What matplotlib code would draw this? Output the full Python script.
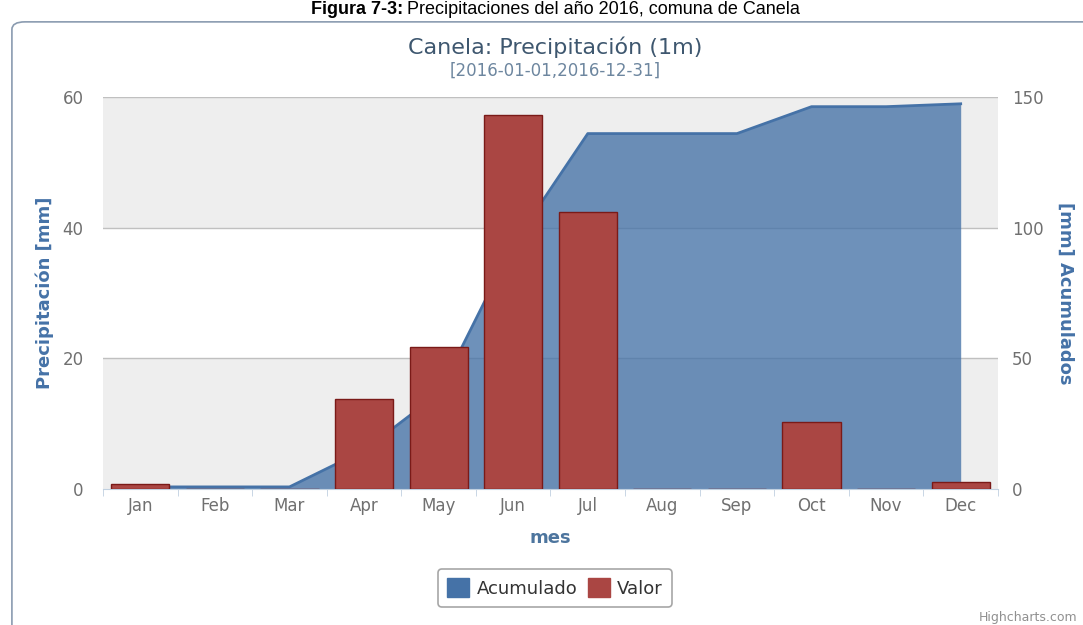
import matplotlib.pyplot as plt
from matplotlib.patches import FancyBboxPatch, Patch

meses = ["Jan", "Feb", "Mar", "Apr", "May", "Jun", "Jul", "Aug", "Sep", "Oct", "Nov", "Dec"]
valor = [0.8, 0, 0, 13.8, 21.7, 57.3, 42.4, 0, 0, 10.3, 0, 1.1]
acumulado = [0.8, 0.8, 0.8, 14.8, 36.5, 93.6, 136.0, 136.0, 136.0, 146.3, 146.3, 147.4]

azul = "#4572A7"
rojo = "#AA4643"

fig = plt.figure(figsize=(10.83, 6.25), dpi=100)

# caption above the chart box
fig.text(0.372, 0.999, "Figura 7-3:", ha="right", va="top", fontsize=13,
         fontweight="bold", family="Liberation Sans")
fig.text(0.376, 0.999, "Precipitaciones del año 2016, comuna de Canela", ha="left", va="top",
         fontsize=13, family="Liberation Sans")

# chart frame
frame = FancyBboxPatch((0.011, -0.05), 1.02, 1.015, transform=fig.transFigure,
                       boxstyle="round,pad=0,rounding_size=0.012",
                       fc="white", ec="#8a9bb0", lw=1.2, zorder=-5)
fig.patches.append(frame)

ax2 = fig.add_axes([0.0951, 0.2176, 0.8264, 0.6272])
ax = ax2.twinx()
ax.set_zorder(2)
ax.patch.set_visible(False)
ax2.set_zorder(1)
ax2.patch.set_visible(True)
ax2.patch.set_facecolor("white")

x = list(range(len(meses)))

ax2.set_ylim(0, 150)
ax.set_ylim(0, 60)
ax2.set_xlim(-0.5, 11.5)

for lo, hi in [(0, 50), (100, 150)]:
    ax2.axhspan(lo, hi, color="#EEEEEE", zorder=0, lw=0)
for g in [50, 100, 150]:
    ax2.axhline(g, color="#C0C0C0", lw=1, zorder=0.5)

ax2.fill_between(x, acumulado, 0, color=azul, alpha=0.78, lw=0, zorder=1)
ax2.plot(x, acumulado, color=azul, lw=2, zorder=1.5)

ax.bar(x, valor, width=0.78, color=rojo, edgecolor="#7a1a18", lw=1, zorder=3)

# left axis on ax (twinx puts it right), swap sides
ax.yaxis.tick_left()
ax.yaxis.set_label_position("left")
ax2.yaxis.tick_right()
ax2.yaxis.set_label_position("right")

ax.set_yticks([0, 20, 40, 60])
ax2.set_yticks([0, 50, 100, 150])
ax2.set_xticks(x)
ax2.set_xticklabels(meses)
ax2.set_xticks([i + 0.5 for i in range(-1, 12)], minor=True)

for a in (ax, ax2):
    for s in a.spines.values():
        s.set_visible(False)
ax2.spines["bottom"].set_visible(True)
ax2.spines["bottom"].set_color("#C0D0E0")

tick_kw = dict(colors="#707070", labelsize=12)
ax.tick_params(axis="y", length=0, pad=14, **tick_kw)
ax2.tick_params(axis="y", length=0, pad=10, **tick_kw)
ax2.tick_params(axis="x", which="major", length=0, pad=6, **tick_kw)
ax2.tick_params(axis="x", which="minor", length=5, color="#C0D0E0")
ax.tick_params(axis="x", length=0, labelbottom=False)

ax.set_ylabel("Precipitación [mm]", color=azul, fontsize=13, fontweight="bold", labelpad=6)
ax2.set_ylabel("[mm] Acumulados", color=azul, fontsize=13, fontweight="bold",
               rotation=270, labelpad=22)
ax2.set_xlabel("mes", color="#4D759E", fontsize=13, fontweight="bold", labelpad=10)

fig.text(0.513, 0.925, "Canela: Precipitación (1m)", ha="center", va="center",
         fontsize=16, color="#3E576F")
fig.text(0.513, 0.887, "[2016-01-01,2016-12-31]", ha="center", va="center",
         fontsize=12, color="#6D869F")

handles = [Patch(facecolor=azul, edgecolor=azul, label="Acumulado"),
           Patch(facecolor=rojo, edgecolor=rojo, label="Valor")]
leg = fig.legend(handles=handles, loc="center", bbox_to_anchor=(0.5125, 0.059), ncol=2,
                 fontsize=13, frameon=True, fancybox=True, edgecolor="#909090",
                 handlelength=1.2, handleheight=1.2, columnspacing=0.6, handletextpad=0.4,
                 borderpad=0.5, labelcolor="#333333")
leg.get_frame().set_linewidth(1.2)

fig.text(0.995, 0.012, "Highcharts.com", ha="right", va="center", fontsize=9, color="#909090")

fig.savefig("out.png", dpi=100)
